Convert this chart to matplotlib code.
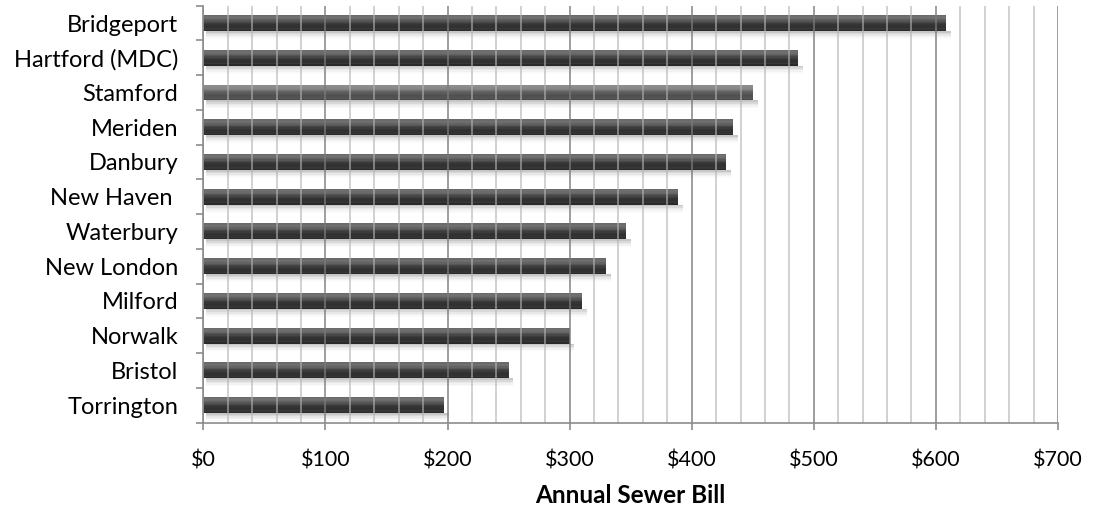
import numpy as np
import matplotlib.pyplot as plt
from matplotlib.ticker import MultipleLocator, FuncFormatter

plt.rcParams['font.family'] = ['Lato', 'DejaVu Sans']

cities = ["Bridgeport", "Hartford (MDC)", "Stamford", "Meriden", "Danbury",
          "New Haven ", "Waterbury", "New London", "Milford", "Norwalk",
          "Bristol", "Torrington"]
bills = [608, 487, 450, 434, 428, 389, 346, 330, 310, 300, 250, 197]

# vertical shading of each bar, top to bottom
dark_profile = ["#6a6a6a", "#707070", "#6c6c6c", "#626262", "#555555", "#474747",
                "#3c3c3c", "#343434", "#303030", "#323232", "#363636", "#2a2a2a"]
light_profile = ["#8a8a8a", "#8e8e8e", "#888888", "#7e7e7e", "#727272", "#666666",
                 "#5c5c5c", "#545454", "#505050", "#525252", "#565656", "#484848"]
shadow_alpha = [0.22, 0.15, 0.09, 0.05, 0.02]

fig = plt.figure(figsize=(10.93, 5.14), dpi=100)
ax = fig.add_axes([0.186, 0.178, 0.782, 0.811])

y = np.arange(len(cities))
bar_h = 0.46
strip = bar_h / len(dark_profile)

for i, (yy, val) in enumerate(zip(y, bills)):
    profile = light_profile if cities[i] == "Stamford" else dark_profile
    top = yy - bar_h / 2
    for k, c in enumerate(profile):
        ax.barh(top + (k + 0.5) * strip, val, height=strip, color=c,
                linewidth=0, align="center", zorder=2)
    # soft drop shadow under the bar
    sh = 0.045
    for k, a in enumerate(shadow_alpha):
        ax.barh(yy + bar_h / 2 + (k + 0.5) * sh, val + 2, left=2, height=sh,
                color="black", alpha=a, linewidth=0, zorder=1.5)

ax.set_xlim(0, 700)
ax.set_ylim(len(cities) - 0.5, -0.5)

ax.xaxis.set_major_locator(MultipleLocator(100))
ax.xaxis.set_minor_locator(MultipleLocator(20))
ax.xaxis.set_major_formatter(FuncFormatter(lambda v, p: f"${v:.0f}"))
ax.grid(axis="x", which="major", color="#7a7a7a", linewidth=1.2, alpha=0.85, zorder=3)
ax.grid(axis="x", which="minor", color="#b4b4b4", linewidth=1.2, alpha=0.7, zorder=3)
ax.set_axisbelow(False)

ax.set_yticks(y)
ax.set_yticklabels(cities)
ax.set_yticks(np.arange(-0.5, len(cities)), minor=True)
ax.tick_params(axis="y", which="major", length=0, pad=18, labelsize=17)
ax.tick_params(axis="y", which="minor", length=5, width=1.2, color="#8c8c8c")
ax.tick_params(axis="x", which="major", length=5, width=1.2, color="#8c8c8c",
               pad=15, labelsize=15.5)
ax.tick_params(axis="x", which="minor", length=0)

for side in ["top", "right"]:
    ax.spines[side].set_visible(False)
for side in ["left", "bottom"]:
    ax.spines[side].set_color("#8c8c8c")
    ax.spines[side].set_linewidth(1.2)
    ax.spines[side].set_zorder(4)

ax.set_xlabel("Annual Sewer Bill", fontsize=17.5, fontweight="bold", labelpad=10)

fig.savefig("out.png", dpi=100)
